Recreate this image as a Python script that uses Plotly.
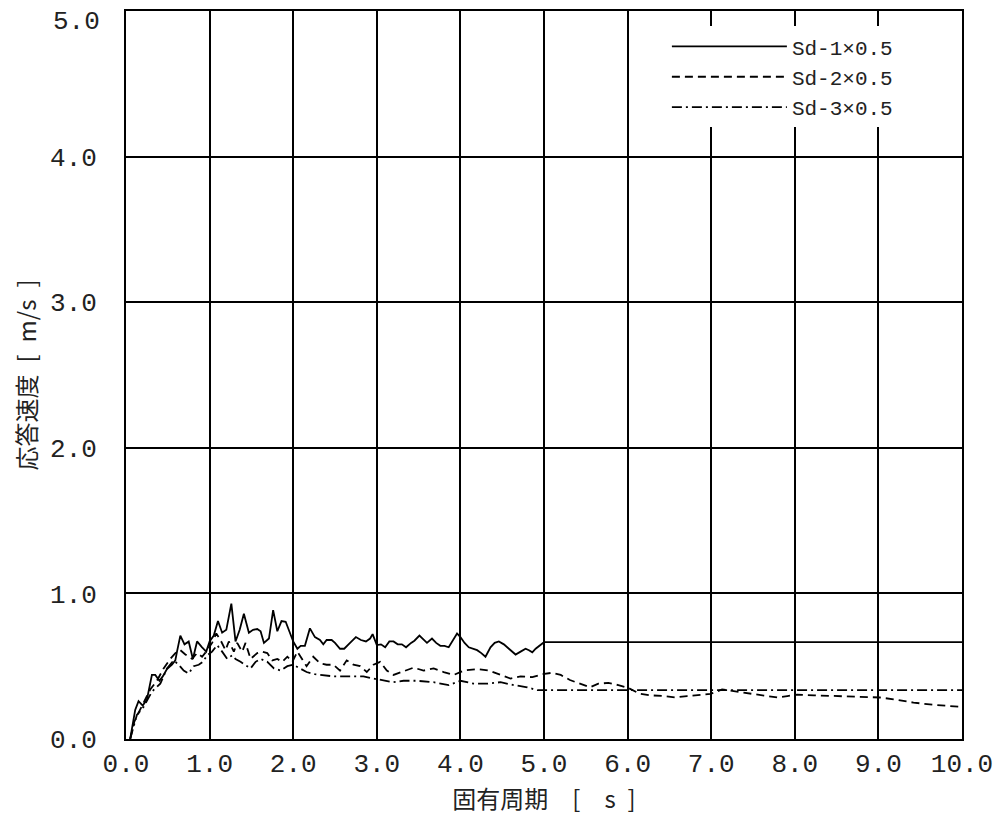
import plotly.graph_objects as go

# ---- data ----
period_sd1 = [0.05, 0.11, 0.15, 0.20, 0.25, 0.31, 0.35, 0.40, 0.44, 0.49, 0.55, 0.59, 0.61, 0.65, 0.70,
              0.75, 0.80, 0.85, 0.91, 0.96, 1.00, 1.05, 1.10, 1.15, 1.20, 1.26, 1.31, 1.36, 1.41, 1.47,
              1.52, 1.57, 1.61, 1.65, 1.71, 1.76, 1.81, 1.86, 1.91, 1.95, 2.00, 2.05, 2.09, 2.14, 2.20,
              2.26, 2.32, 2.36, 2.40, 2.46, 2.50, 2.56, 2.61, 2.68, 2.75, 2.81, 2.87, 2.92, 2.95, 3.00,
              3.05, 3.10, 3.15, 3.20, 3.25, 3.30, 3.35, 3.41, 3.45, 3.51, 3.56, 3.60, 3.66, 3.71, 3.76,
              3.81, 3.86, 3.91, 3.96, 4.00, 4.05, 4.10, 4.15, 4.20, 4.25, 4.30, 4.36, 4.41, 4.46, 4.52,
              4.58, 4.66, 4.72, 4.78, 4.82, 4.86, 4.90, 4.96, 5.00, 10.0]
vel_sd1 = [0.0, 0.20, 0.26, 0.23, 0.27, 0.44, 0.44, 0.40, 0.43, 0.48, 0.51, 0.54, 0.60, 0.71, 0.65,
           0.67, 0.55, 0.67, 0.63, 0.60, 0.67, 0.71, 0.81, 0.73, 0.75, 0.93, 0.67, 0.75, 0.86, 0.73,
           0.75, 0.755, 0.74, 0.66, 0.69, 0.885, 0.74, 0.81, 0.805, 0.75, 0.67, 0.62, 0.64, 0.64, 0.76,
           0.70, 0.68, 0.65, 0.68, 0.68, 0.66, 0.62, 0.62, 0.66, 0.70, 0.68, 0.67, 0.69, 0.72, 0.645,
           0.65, 0.63, 0.67, 0.67, 0.65, 0.65, 0.63, 0.66, 0.675, 0.71, 0.68, 0.66, 0.69, 0.66, 0.64,
           0.64, 0.63, 0.68, 0.725, 0.70, 0.66, 0.63, 0.62, 0.61, 0.59, 0.565, 0.63, 0.66, 0.67, 0.65,
           0.62, 0.58, 0.60, 0.62, 0.61, 0.595, 0.62, 0.645, 0.665, 0.665]

period_sd2 = [0.05, 0.10, 0.15, 0.21, 0.29, 0.37, 0.45, 0.53, 0.59, 0.65, 0.71, 0.79, 0.85, 0.91, 0.96,
              1.03, 1.08, 1.13, 1.19, 1.23, 1.29, 1.33, 1.39, 1.43, 1.49, 1.57, 1.63, 1.69, 1.75, 1.81,
              1.87, 1.93, 1.99, 2.05, 2.10, 2.16, 2.24, 2.32, 2.40, 2.48, 2.56, 2.64, 2.72, 2.80, 2.88,
              2.96, 3.04, 3.12, 3.20, 3.30, 3.44, 3.56, 3.68, 3.80, 3.92, 4.04, 4.20, 4.34, 4.48, 4.60,
              4.72, 4.86, 4.98, 5.10, 5.20, 5.31, 5.43, 5.55, 5.65, 5.77, 5.89, 6.01, 6.15, 6.27, 6.43,
              6.57, 6.71, 6.85, 6.99, 7.13, 7.31, 7.51, 7.67, 7.79, 7.91, 8.03, 8.23, 8.43, 8.63, 8.83,
              9.02, 9.22, 9.42, 9.66, 10.0]
vel_sd2 = [0.0, 0.12, 0.18, 0.245, 0.34, 0.40, 0.485, 0.55, 0.59, 0.61, 0.58, 0.55, 0.59, 0.565, 0.60,
           0.66, 0.725, 0.68, 0.61, 0.67, 0.60, 0.66, 0.60, 0.66, 0.55, 0.59, 0.60, 0.59, 0.54, 0.55,
           0.53, 0.565, 0.53, 0.60, 0.55, 0.50, 0.565, 0.52, 0.51, 0.51, 0.47, 0.54, 0.51, 0.50, 0.46,
           0.51, 0.53, 0.47, 0.44, 0.46, 0.49, 0.47, 0.485, 0.46, 0.44, 0.47, 0.48, 0.47, 0.44, 0.415,
           0.43, 0.425, 0.445, 0.455, 0.44, 0.405, 0.38, 0.355, 0.38, 0.385, 0.37, 0.35, 0.31, 0.30, 0.295,
           0.285, 0.295, 0.30, 0.31, 0.34, 0.325, 0.31, 0.295, 0.285, 0.295, 0.305, 0.30, 0.295, 0.295, 0.29,
           0.285, 0.27, 0.25, 0.235, 0.22]

period_sd3 = [0.05, 0.13, 0.21, 0.31, 0.41, 0.49, 0.57, 0.63, 0.69, 0.75, 0.81, 0.87, 0.92, 0.97, 1.03,
              1.09, 1.15, 1.21, 1.27, 1.31, 1.37, 1.43, 1.49, 1.55, 1.61, 1.69, 1.77, 1.85, 1.93, 2.00,
              2.08, 2.16, 2.26, 2.36, 2.48, 2.60, 2.72, 2.84, 2.96, 3.08, 3.20, 3.32, 3.48, 3.68, 3.86,
              4.00, 4.16, 4.32, 4.48, 4.64, 4.80, 4.92, 5.04, 10.0]
vel_sd3 = [0.0, 0.165, 0.22, 0.325, 0.38, 0.485, 0.54, 0.51, 0.47, 0.45, 0.50, 0.51, 0.53, 0.575, 0.60,
           0.645, 0.60, 0.55, 0.575, 0.55, 0.53, 0.51, 0.485, 0.53, 0.55, 0.53, 0.485, 0.47, 0.50, 0.51,
           0.485, 0.46, 0.445, 0.44, 0.43, 0.43, 0.43, 0.43, 0.415, 0.405, 0.39, 0.40, 0.40, 0.39, 0.37,
           0.40, 0.38, 0.38, 0.39, 0.37, 0.355, 0.335, 0.335, 0.335]

series_names = ["Sd-1×0.5", "Sd-2×0.5", "Sd-3×0.5"]
x_ticks = [0, 1, 2, 3, 4, 5, 6, 7, 8, 9, 10]
y_ticks = [0, 1, 2, 3, 4, 5]
x_title = "固有周期\u3000[\u3000s\u2002]"
y_title = "応答速度\u2002[\u2002m/s\u2002]"

# ---- figure ----
mono = "Liberation Mono, Noto Sans CJK JP"
jp = "Noto Sans CJK JP"
tick_font = dict(family=mono, size=26, color="#222")

fig = go.Figure()
styles = ["solid", "8px,5px", "10px,4px,2px,4px"]
for px_, vy, name, dash in zip([period_sd1, period_sd2, period_sd3],
                               [vel_sd1, vel_sd2, vel_sd3], series_names, styles):
    fig.add_trace(go.Scatter(x=px_, y=vy, mode="lines", name=name,
                             line=dict(color="black", width=1.8, dash=dash)))

axis_common = dict(showgrid=True, gridcolor="black", gridwidth=1.8,
                   showline=True, linecolor="black", linewidth=1.8, mirror=True,
                   zeroline=False, ticks="", tickformat=".1f", automargin=False,
                   ticklabeloverflow="allow", tickfont=tick_font)

fig.update_xaxes(range=[0, 10], tickvals=x_ticks, ticklabelstandoff=0,
                 title=dict(text=x_title, font=dict(family=jp, size=24, color="#222"), standoff=11),
                 **axis_common)
# top label (5.0) is set slightly below its gridline, as in the reference
fig.update_yaxes(range=[0, 5], tickvals=y_ticks[:-1], ticklabelstandoff=22,
                 title=dict(text=y_title, font=dict(family=jp, size=24, color="#222"), standoff=15),
                 **axis_common)
fig.add_annotation(x=0, xref="paper", y=y_ticks[-1], yref="y",
                   text=f"{y_ticks[-1]:.1f}", showarrow=False,
                   xanchor="right", yanchor="middle", xshift=-24, yshift=-11,
                   font=tick_font)

fig.update_layout(
    width=1003, height=823,
    margin=dict(l=118, r=49, t=3, b=92, autoexpand=False),
    paper_bgcolor="white", plot_bgcolor="white",
    showlegend=True,
    legend=dict(x=0.647, y=0.979, xanchor="left", yanchor="top",
                bgcolor="white", borderwidth=0, itemwidth=115,
                font=dict(family=mono, size=21, color="#222"),
                tracegroupgap=0),
)

fig.write_html("out.html")
